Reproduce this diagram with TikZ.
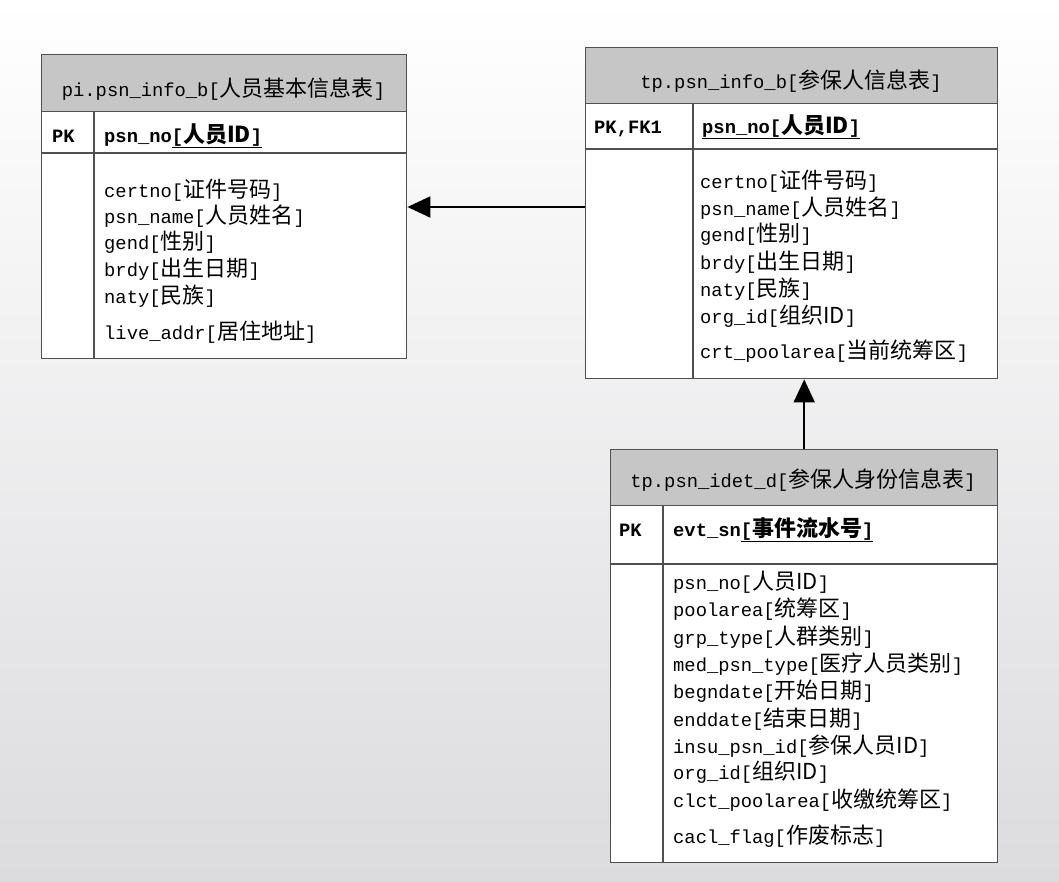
\documentclass[tikz,border=0pt]{standalone}
\usepackage{fontspec}
\usetikzlibrary{arrows.meta}
\setmainfont{Liberation Mono}
\newfontfamily\cjkf{Noto Sans CJK SC}
\newfontfamily\latf{Liberation Mono}
\newcommand\myLat{\fontsize{18.8}{22}\selectfont\latf}
\newcommand\myCJK{\fontsize{22}{24}\selectfont\cjkf}
\newcommand\fld[2]{{\myLat #1[}{\myCJK #2}{\myLat ]}}
\newcommand\bl[1]{{\myLat\bfseries #1}}
\newcommand\bc[1]{{\myCJK\bfseries #1}}
\definecolor{bordc}{RGB}{80,80,80}
\definecolor{hdrc}{RGB}{198,198,198}
\definecolor{bgbot}{RGB}{220,220,223}
\begin{document}
\begin{tikzpicture}[x=1pt,y=-1pt,
  tbl/.style={draw=bordc, line width=1.4pt, fill=white, inner sep=0pt, anchor=north west},
  hdr/.style={tbl, fill=hdrc},
  bord/.style={draw=bordc, line width=1.4pt},
  txt/.style={inner sep=0pt, anchor=base west},
  ttl/.style={inner sep=0pt, anchor=base},
  arr/.style={line width=2pt, -{Triangle[length=23pt,width=21pt]}}]
\shade[top color=white, bottom color=bgbot] (0,0) rectangle (1059,881);
\useasboundingbox (0,0) rectangle (1059,881);

% ---------- table 1 ----------
\node[tbl, minimum width=365pt, minimum height=304pt] (t1) at (41,54) {};
\node[hdr, minimum width=365pt, minimum height=57pt] (t1h) at (41,54) {};
\draw[bord] (t1.west |- 0,153) -- (t1.east |- 0,153);
\draw[bord] (94,0 |- t1h.south) -- (94,0 |- t1.south);
\node[ttl] (t1t) at (223.5,96) {\fld{pi.psn\_info\_b}{人员基本信息表}};
\node[txt] (t1pk) at (52,142) {\bl{PK}};
\node[txt] (t1k) at (104,142) {\bl{psn\_no}\underline{\bl{[}\bc{人员ID}\bl{]}}};
\node[txt] (t1a) at (104,197) {\fld{certno}{证件号码}};
\node[txt] (t1b) at (104,223) {\fld{psn\_name}{人员姓名}};
\node[txt] (t1c) at (104,249) {\fld{gend}{性别}};
\node[txt] (t1d) at (104,276) {\fld{brdy}{出生日期}};
\node[txt] (t1e) at (104,303) {\fld{naty}{民族}};
\node[txt] (t1f) at (104,339) {\fld{live\_addr}{居住地址}};

% ---------- table 2 ----------
\node[tbl, minimum width=412pt, minimum height=331pt] (t2) at (585,47) {};
\node[hdr, minimum width=412pt, minimum height=56pt] (t2h) at (585,47) {};
\draw[bord] (t2.west |- 0,149) -- (t2.east |- 0,149);
\draw[bord] (693,0 |- t2h.south) -- (693,0 |- t2.south);
\node[ttl] (t2t) at (791,88) {\fld{tp.psn\_info\_b}{参保人信息表}};
\node[txt] (t2pk) at (594,133) {\bl{PK,FK1}};
\node[txt] (t2k) at (702,133) {\underline{\bl{psn\_no[}\bc{人员ID}\bl{]}}};
\node[txt] (t2a) at (700,188) {\fld{certno}{证件号码}};
\node[txt] (t2b) at (700,215) {\fld{psn\_name}{人员姓名}};
\node[txt] (t2c) at (700,241) {\fld{gend}{性别}};
\node[txt] (t2d) at (700,269) {\fld{brdy}{出生日期}};
\node[txt] (t2e) at (700,296) {\fld{naty}{民族}};
\node[txt] (t2f) at (700,323) {\fld{org\_id}{组织ID}};
\node[txt] (t2g) at (700,358) {\fld{crt\_poolarea}{当前统筹区}};

% ---------- table 3 ----------
\node[tbl, minimum width=387pt, minimum height=413pt] (t3) at (610,449) {};
\node[hdr, minimum width=387pt, minimum height=56pt] (t3h) at (610,449) {};
\draw[bord] (t3.west |- 0,564) -- (t3.east |- 0,564);
\draw[bord] (663,0 |- t3h.south) -- (663,0 |- t3.south);
\node[ttl] (t3t) at (803,487) {\fld{tp.psn\_idet\_d}{参保人身份信息表}};
\node[txt] (t3pk) at (619,536) {\bl{PK}};
\node[txt] (t3k) at (673,536) {\bl{evt\_sn}\underline{\bl{[}\bc{事件流水号}\bl{]}}};
\node[txt] (t3a) at (673,589) {\fld{psn\_no}{人员ID}};
\node[txt] (t3b) at (673,616) {\fld{poolarea}{统筹区}};
\node[txt] (t3c) at (673,644) {\fld{grp\_type}{人群类别}};
\node[txt] (t3d) at (673,671) {\fld{med\_psn\_type}{医疗人员类别}};
\node[txt] (t3e) at (673,698) {\fld{begndate}{开始日期}};
\node[txt] (t3f) at (673,726) {\fld{enddate}{结束日期}};
\node[txt] (t3g) at (673,753) {\fld{insu\_psn\_id}{参保人员ID}};
\node[txt] (t3h2) at (673,779) {\fld{org\_id}{组织ID}};
\node[txt] (t3i) at (673,807) {\fld{clct\_poolarea}{收缴统筹区}};
\node[txt] (t3j) at (673,843) {\fld{cacl\_flag}{作废标志}};

% ---------- connectors ----------
\draw[arr] (t2.west |- 0,207) -- (t1.east |- 0,207);
\draw[arr] (t3.north) -- (t3.north |- t2.south);
\end{tikzpicture}
\end{document}
